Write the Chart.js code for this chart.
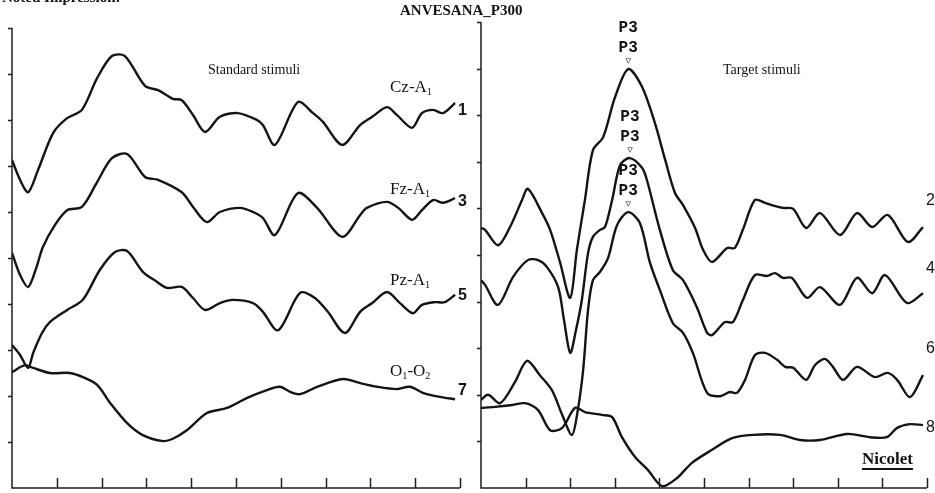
<!DOCTYPE html>
<html>
<head>
<meta charset="utf-8">
<script src="https://cdn.jsdelivr.net/npm/chart.js@4.4.1/dist/chart.umd.min.js"></script>
<style>
html, body { margin: 0; padding: 0; background: #fff; }
#wrap { position: relative; width: 935px; height: 493px; overflow: hidden; background: #fff; }
#wrap canvas { position: absolute; left: 0; top: 0; }
.t { position: absolute; white-space: nowrap; line-height: 1; color: #141414; }
.serif { font-family: "Liberation Serif", "DejaVu Serif", serif; }
.sans { font-family: "Liberation Sans", Arial, sans-serif; }
.t sub { font-size: 60%; vertical-align: -3px; line-height: 0; }
</style>
</head>
<body>
<div id="wrap">
    <canvas id="chartStandard" width="935" height="493"></canvas>
    <canvas id="chartTarget" width="935" height="493"></canvas>

    <div class="t serif" style="left:2px; top:-10px; font-size:15px; font-weight:bold;">Noted Impression:</div>
    <div class="t serif" style="left:400px; top:3px; font-size:15px; font-weight:bold;">ANVESANA_P300</div>

    <div class="t serif" style="left:208px; top:63px; font-size:14px;">Standard stimuli</div>
    <div class="t serif" style="left:723px; top:63px; font-size:14px;">Target stimuli</div>

    <div class="t serif" style="left:390px; top:78px; font-size:17px;">Cz-A<sub>1</sub></div>
    <div class="t serif" style="left:390px; top:180px; font-size:17px;">Fz-A<sub>1</sub></div>
    <div class="t serif" style="left:390px; top:271px; font-size:17px;">Pz-A<sub>1</sub></div>
    <div class="t serif" style="left:390px; top:362px; font-size:17px;">O<sub>1</sub>-O<sub>2</sub></div>

    <div class="t sans" style="left:458px; top:102px; font-size:16px; font-weight:bold;">1</div>
    <div class="t sans" style="left:458px; top:193px; font-size:16px; font-weight:bold;">3</div>
    <div class="t sans" style="left:458px; top:287px; font-size:16px; font-weight:bold;">5</div>
    <div class="t sans" style="left:458px; top:382px; font-size:16px; font-weight:bold;">7</div>

    <div class="t sans" style="left:926px; top:192px; font-size:16px;">2</div>
    <div class="t sans" style="left:926px; top:260px; font-size:16px;">4</div>
    <div class="t sans" style="left:926px; top:340px; font-size:16px;">6</div>
    <div class="t sans" style="left:926px; top:419px; font-size:16px;">8</div>

    <div class="t serif" style="left:862px; top:450px; font-size:17px; font-weight:bold; border-bottom:2px solid #141414; padding-bottom:1px;">Nicolet</div>
</div>

<script>
// axis ticks (ms along x, amplitude steps along y)
const timeTicks = [0, 100, 200, 300, 400, 500, 600, 700, 800, 900, 1000];
const levelTicks = [0, 1, 2, 3, 4, 5, 6, 7, 8, 9, 10];

// --- Standard stimuli (left) ---
const czStdMs  = [0, 18, 36, 58, 92, 123, 156, 190, 223, 252, 297, 326, 359, 379, 404, 431, 464, 504, 547, 560, 587, 638, 672, 694, 737, 777, 804, 837, 859, 893, 915, 940, 962, 989];
const czStdAmp = [7.13, 6.70, 6.43, 6.91, 7.72, 8.04, 8.22, 8.91, 9.39, 9.39, 8.74, 8.65, 8.46, 8.43, 8.11, 7.74, 8.07, 8.15, 8.00, 7.89, 7.46, 8.39, 8.15, 7.96, 7.46, 7.89, 8.07, 8.28, 8.11, 7.83, 8.15, 8.22, 8.15, 8.37];

const fzStdMs  = [0, 18, 36, 54, 69, 96, 123, 156, 190, 223, 257, 297, 326, 379, 404, 435, 464, 509, 538, 560, 587, 638, 681, 737, 777, 792, 837, 862, 893, 915, 940, 962, 989];
const fzStdAmp = [5.11, 4.63, 4.37, 4.78, 5.24, 5.72, 6.04, 6.11, 6.65, 7.17, 7.26, 6.76, 6.70, 6.43, 6.11, 5.78, 6.00, 6.09, 6.00, 5.87, 5.50, 6.41, 6.09, 5.46, 5.93, 6.09, 6.22, 6.09, 5.83, 6.04, 6.26, 6.20, 6.30];

const pzStdMs  = [0, 18, 36, 47, 67, 85, 123, 158, 196, 230, 257, 292, 324, 346, 379, 404, 431, 464, 493, 538, 560, 594, 643, 676, 705, 743, 777, 804, 837, 866, 895, 915, 944, 966, 989];
const pzStdAmp = [3.11, 2.89, 2.61, 2.93, 3.37, 3.61, 3.87, 4.09, 4.74, 5.13, 5.15, 4.70, 4.48, 4.35, 4.37, 4.13, 3.87, 4.02, 4.09, 4.02, 3.83, 3.43, 4.24, 4.13, 3.83, 3.37, 3.83, 4.02, 4.26, 4.02, 3.80, 3.98, 4.04, 4.04, 4.20];

const ooStdMs  = [0, 29, 47, 85, 129, 158, 190, 219, 257, 292, 337, 359, 391, 435, 480, 525, 569, 598, 621, 643, 681, 739, 777, 815, 859, 888, 917, 955, 989];
const ooStdAmp = [2.52, 2.67, 2.61, 2.50, 2.50, 2.41, 2.24, 1.85, 1.41, 1.15, 1.02, 1.07, 1.26, 1.63, 1.74, 1.96, 2.13, 2.20, 2.09, 2.04, 2.20, 2.37, 2.28, 2.20, 2.15, 2.20, 2.07, 1.98, 1.93];

// --- Target stimuli (right) ---
const czTgtMs  = [0, 9, 38, 65, 92, 105, 137, 155, 177, 200, 215, 233, 251, 274, 300, 330, 361, 390, 413, 435, 453, 480, 498, 518, 552, 569, 587, 614, 637, 652, 677, 700, 729, 760, 805, 843, 877, 912, 957, 991];
const czTgtAmp = [5.58, 5.54, 5.21, 5.60, 6.18, 6.42, 5.90, 5.54, 4.85, 4.08, 5.11, 6.18, 7.25, 7.53, 8.37, 8.99, 8.61, 7.83, 7.04, 6.33, 6.07, 5.58, 5.11, 4.85, 5.15, 5.15, 5.54, 6.18, 6.12, 6.07, 6.01, 5.99, 5.58, 5.90, 5.43, 5.90, 5.60, 5.86, 5.28, 5.60];

const fzTgtMs  = [0, 9, 38, 72, 105, 128, 148, 173, 186, 200, 213, 226, 240, 251, 267, 278, 294, 312, 334, 361, 372, 401, 430, 453, 484, 507, 518, 547, 565, 587, 614, 641, 659, 677, 697, 731, 760, 805, 843, 877, 906, 955, 991];
const fzTgtAmp = [4.46, 4.36, 3.93, 4.53, 4.89, 4.89, 4.74, 4.31, 3.61, 2.90, 3.39, 4.03, 5.04, 5.39, 5.54, 5.60, 6.18, 6.93, 7.08, 6.87, 6.61, 5.54, 4.68, 4.46, 3.88, 3.33, 3.28, 3.56, 3.56, 4.03, 4.57, 4.55, 4.61, 4.51, 4.51, 4.08, 4.31, 3.93, 4.51, 4.18, 4.57, 3.97, 4.18];

const pzTgtMs  = [0, 16, 43, 76, 103, 132, 159, 182, 204, 217, 229, 240, 251, 267, 285, 305, 330, 356, 379, 401, 430, 453, 475, 507, 536, 558, 574, 592, 614, 637, 664, 682, 700, 729, 749, 771, 789, 812, 843, 883, 912, 933, 962, 991];
const pzTgtAmp = [1.89, 2.00, 1.82, 2.27, 2.73, 2.42, 2.10, 1.57, 1.14, 1.67, 2.53, 3.82, 4.46, 4.64, 4.94, 5.64, 5.92, 5.69, 4.83, 4.25, 3.54, 3.33, 2.90, 2.04, 1.97, 2.06, 2.04, 2.32, 2.85, 2.90, 2.75, 2.60, 2.58, 2.32, 2.64, 2.77, 2.60, 2.32, 2.60, 2.38, 2.47, 2.32, 1.95, 2.42];

const ooTgtMs  = [0, 31, 70, 99, 128, 155, 182, 211, 233, 271, 294, 316, 345, 374, 406, 439, 473, 518, 563, 610, 670, 715, 760, 821, 872, 910, 933, 962, 991];
const ooTgtAmp = [1.72, 1.74, 1.78, 1.82, 1.67, 1.24, 1.29, 1.72, 1.63, 1.57, 1.52, 1.09, 0.67, 0.39, 0.04, 0.21, 0.54, 0.82, 1.07, 1.14, 1.14, 1.03, 1.03, 1.16, 1.09, 1.09, 1.29, 1.37, 1.35];

const peakLabel = "P3";
const traceColor = "#141414";

function toPoints(ms, amp) {
    return ms.map((m, i) => ({ x: m, y: amp[i] }));
}

// axis lines with inward x ticks and outward y ticks, placed through the scales
const axisFrame = {
    id: "axisFrame",
    afterDatasetsDraw(chart) {
        const { ctx, chartArea: a, scales: { x, y } } = chart;
        ctx.save();
        ctx.strokeStyle = "#1e1e1e";
        ctx.lineWidth = 1.5;
        ctx.beginPath();
        ctx.moveTo(a.left, a.top);
        ctx.lineTo(a.left, a.bottom);
        ctx.lineTo(a.right, a.bottom);
        timeTicks.slice(1).forEach(t => {
            const px = Math.round(x.getPixelForValue(t)) + 0.5;
            ctx.moveTo(px, a.bottom);
            ctx.lineTo(px, a.bottom - 10);
        });
        levelTicks.slice(1).forEach(v => {
            const py = Math.round(y.getPixelForValue(v)) + 0.5;
            ctx.moveTo(a.left, py);
            ctx.lineTo(a.left - 4, py);
        });
        ctx.stroke();
        ctx.restore();
    }
};

// P3 markers above the target peaks
const p3Marks = {
    id: "p3Marks",
    afterDatasetsDraw(chart, args, opts) {
        if (!opts.datasets) return;
        const { ctx, scales: { x, y } } = chart;
        ctx.save();
        ctx.fillStyle = traceColor;
        ctx.textAlign = "center";
        ctx.textBaseline = "middle";
        opts.datasets.forEach(idx => {
            const pts = chart.data.datasets[idx].data;
            let best = pts[0];
            pts.forEach(p => { if (p.x > 250 && p.x < 420 && p.y > best.y) best = p; });
            const px = x.getPixelForValue(best.x);
            const py = y.getPixelForValue(best.y);
            ctx.font = "bold 16px 'Liberation Mono', 'DejaVu Sans Mono', monospace";
            ctx.fillText(peakLabel, px, py - 41);
            ctx.fillText(peakLabel, px, py - 21);
            ctx.font = "11px 'DejaVu Sans', sans-serif";
            ctx.fillText("\u25BF", px, py - 8);
        });
        ctx.restore();
    }
};

function makeChart(id, series, pad, peaks) {
    return new Chart(document.getElementById(id), {
        type: "line",
        data: {
            datasets: series.map(s => ({
                data: toPoints(s[0], s[1]),
                borderColor: traceColor,
                borderWidth: 2.4,
                pointRadius: 0,
                fill: false,
                tension: 0.3
            }))
        },
        options: {
            responsive: false,
            animation: false,
            layout: { padding: pad },
            plugins: {
                legend: { display: false },
                tooltip: { enabled: false },
                p3Marks: { datasets: peaks }
            },
            scales: {
                x: { type: "linear", display: false, min: 0, max: 1000 },
                y: { type: "linear", display: false, min: 0, max: 10 }
            }
        },
        plugins: [axisFrame, p3Marks]
    });
}

makeChart("chartStandard",
    [[czStdMs, czStdAmp], [fzStdMs, fzStdAmp], [pzStdMs, pzStdAmp], [ooStdMs, ooStdAmp]],
    { left: 12, right: 475, top: 28, bottom: 5 },
    null);

makeChart("chartTarget",
    [[czTgtMs, czTgtAmp], [fzTgtMs, fzTgtAmp], [pzTgtMs, pzTgtAmp], [ooTgtMs, ooTgtAmp]],
    { left: 481, right: 8, top: 22, bottom: 5 },
    [0, 1, 2]);
</script>
</body>
</html>
